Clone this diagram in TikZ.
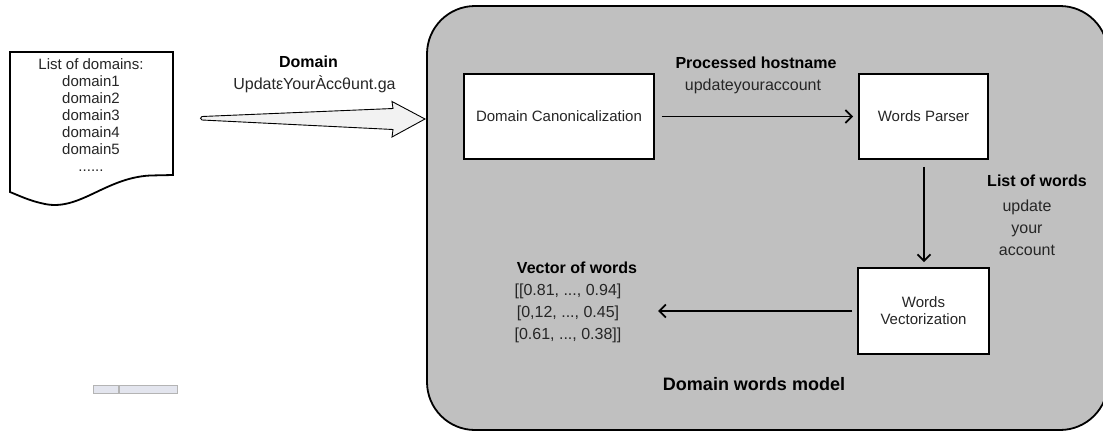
\documentclass[tikz,border=0pt]{standalone}
\usepackage{fontspec}
\setmainfont{Liberation Sans}
\usetikzlibrary{arrows.meta}
\definecolor{panelgray}{HTML}{C0C0C0}
\definecolor{txt}{HTML}{262626}
\definecolor{arrowfill}{HTML}{F2F2F2}
\definecolor{barfill}{HTML}{E3E5EE}
\definecolor{barline}{HTML}{B4B4B4}
\tikzset{
  procbox/.style={draw=black, line width=1.7pt, fill=white, text=txt, align=center,
    font={\fontsize{15}{17}\selectfont}, inner sep=0pt},
  lbl/.style={text=txt, inner sep=0pt, font={\fontsize{16}{22}\selectfont}, align=center},
  lblbold/.style={text=black, inner sep=0pt, font={\fontsize{16}{22}\selectfont\bfseries}},
  flow/.style={line width=1.8pt, -{Straight Barb[length=6.5pt,width=13pt,line width=1.8pt]}},
}
\begin{document}
\begin{tikzpicture}[x=1pt,y=-1pt]
\useasboundingbox (0,0) rectangle (1103,432);
% panel
\draw[line width=1.8pt, fill=panelgray, rounded corners=48pt] (427,6) rectangle (1108,430);
% document shape
\draw[line width=1.8pt, fill=white] (10,52) -- (173,52) -- (173,175) -- (150,175.5)
  .. controls (105,178) and (80,211) .. (45,204)
  .. controls (30,201) and (20,196) .. (10,192) -- cycle;
\node[lbl, anchor=north, font={\fontsize{15}{17}\selectfont}] (doctext) at (91,58.3)
  {List of domains:\\domain1\\domain2\\domain3\\domain4\\domain5\\......};
% hollow arrow
\draw[line width=0.9pt, fill=arrowfill] (202,116.5) -- (393,108.5) -- (392,101.5) -- (425,119)
  -- (392,137) -- (393,129.5) -- (202,120) .. controls (200,119) and (200,117.5) .. cycle;
\node[lblbold, anchor=base] (domlbl) at (308.5,67.3) {Domain};
\node[lbl, anchor=base] (domval) at (314.5,89.3) {UpdatεYourÀccθunt.ga};
% boxes
\node[procbox, minimum width=190pt, minimum height=85pt] (canon) at (559,116.5) {Domain Canonicalization};
\node[procbox, minimum width=129pt, minimum height=85pt] (parser) at (923.5,116.5) {Words Parser};
\node[procbox, minimum width=131pt, minimum height=86pt] (vect) at (923.5,311) {Words\\Vectorization};
\coordinate (vecend) at (658,311);
% connectors
\draw[flow, shorten <=7pt, shorten >=5pt] (canon.east) -- (parser.west);
\draw[flow, shorten <=7pt, shorten >=5pt] (parser.south -| 924,0) -- (vect.north -| 924,0);
\draw[flow, shorten <=5pt] (vect.west) -- (vecend);
% labels
\node[lblbold, anchor=base] (proclbl) at (756,68) {Processed hostname};
\node[lbl, anchor=base] (procval) at (753,90) {updateyouraccount};
\node[lblbold, anchor=base] (wordslbl) at (1037,186.7) {List of words};
\node[lbl, anchor=north] (wordsval) at (1027,200) {update\\your\\account};
\node[lblbold, anchor=base] (veclbl) at (577,273.5) {Vector of words};
\node[lbl, anchor=north] (vecval) at (568,283.7) {{[}[0.81, ..., 0.94]\\{[}0,12, ..., 0.45]\\{[}0.61, ..., 0.38]]};
\node[lblbold, anchor=base, font={\fontsize{18}{22}\selectfont\bfseries}] (model) at (754,390.7) {Domain words model};
% small bar artifact
\draw[draw=barline, fill=barfill, line width=0.8pt] (93,385) rectangle (118.5,393);
\draw[draw=barline, fill=barfill, line width=0.8pt] (119.5,385) rectangle (177,393);
\end{tikzpicture}
\end{document}
